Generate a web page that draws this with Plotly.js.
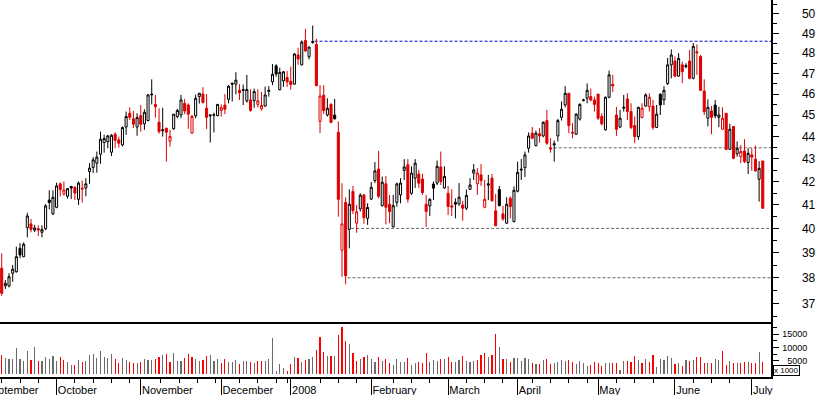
<!DOCTYPE html>
<html><head><meta charset="utf-8">
<script src="https://cdn.plot.ly/plotly-3.0.1.min.js"></script>
<style>
html,body{margin:0;padding:0;overflow:hidden;background:#fff;width:817px;height:395px}
#chart{position:absolute;left:-30px;top:0;width:847px;height:395px}
</style>
</head><body><div id="chart"></div>
<script>
// ---- data (daily OHLC, Sep 10 2007 .. Jul 4 2008) ----
const open = [38.38,37.68,37.68,38.18,38.24,39.18,38.84,40.03,40.19,39.93,
39.99,39.84,39.99,41.20,40.61,40.89,41.90,41.46,41.36,41.78,
41.74,41.23,41.71,41.72,42.44,42.62,42.81,43.21,43.74,43.78,
43.30,44.12,43.86,43.63,44.45,45.09,44.83,44.45,44.98,44.60,
44.75,46.00,45.51,44.67,44.28,44.40,43.80,44.37,44.94,45.01,
45.56,45.48,44.17,44.97,45.88,46.00,45.33,44.97,45.00,44.98,
45.22,45.48,45.75,46.52,46.48,46.18,46.18,45.68,45.72,45.69,
45.51,45.30,45.43,46.13,46.59,47.37,46.21,46.64,46.80,46.62,
46.48,47.91,47.42,48.64,47.82,48.53,48.44,44.71,45.95,45.01,
45.51,45.01,44.21,39.10,41.10,39.96,41.57,40.22,40.82,41.42,
40.42,41.24,42.04,42.55,40.96,41.90,41.02,40.07,41.10,41.42,
42.49,42.74,41.49,42.15,42.33,42.11,41.02,40.95,41.89,41.93,
42.64,41.72,41.49,40.95,41.10,41.03,40.99,40.85,41.66,42.37,
41.90,42.29,40.89,41.84,42.15,40.74,41.65,40.61,40.22,41.27,
40.29,41.58,42.55,42.61,43.48,44.17,43.60,44.14,44.04,44.75,
43.49,43.63,44.04,44.90,45.48,46.04,44.21,44.12,44.82,45.69,
45.80,45.88,45.72,46.00,44.94,44.32,45.85,46.47,45.01,44.45,
45.33,45.77,45.17,44.52,44.01,44.89,45.43,45.40,45.43,44.43,
45.99,45.72,46.51,47.42,47.61,46.87,47.42,47.33,47.61,46.76,
48.07,47.84,46.15,44.86,45.20,45.48,44.90,44.35,45.09,43.43,
44.48,43.23,43.10,43.36,42.84,43.18,42.99,42.10,42.91];
const high = [38.98,37.91,38.18,38.51,39.25,39.39,39.42,40.66,40.40,40.15,
40.13,40.13,41.03,41.62,41.62,41.95,41.95,42.00,41.72,41.81,
41.81,42.00,42.04,42.15,42.81,43.08,43.33,44.24,44.09,44.09,
44.12,44.21,44.01,44.48,45.17,45.37,45.20,45.09,45.48,45.28,
46.00,46.71,45.96,45.33,45.35,44.40,44.32,45.05,45.30,45.96,
45.77,45.56,45.01,45.98,46.04,46.33,46.00,45.01,45.12,45.51,
45.51,46.00,46.43,46.55,47.06,46.47,46.46,46.93,46.23,46.26,
46.23,46.10,46.36,46.38,47.46,47.45,47.28,47.12,47.12,47.34,
48.00,48.27,48.64,49.23,48.31,49.40,48.72,46.43,46.43,45.80,
45.57,45.77,44.71,41.93,41.32,41.66,41.81,40.99,41.49,41.46,
41.06,41.98,42.86,43.36,42.22,42.25,41.42,41.42,41.95,42.15,
42.99,42.99,42.67,42.99,42.51,42.34,41.42,41.27,42.00,42.93,
43.33,42.67,41.81,41.66,41.27,41.93,41.17,41.65,42.15,42.77,
42.59,42.77,42.07,42.29,42.33,41.46,41.81,40.95,41.32,41.36,
41.79,42.88,42.99,43.33,44.20,44.45,44.29,44.40,44.71,45.25,
43.94,43.83,44.83,45.65,46.38,46.04,44.63,45.09,45.56,45.78,
46.51,46.26,45.88,46.00,45.09,45.88,47.14,46.93,45.40,45.25,
45.96,46.04,45.56,44.94,45.40,45.56,46.04,46.04,45.72,45.48,
46.04,46.38,47.76,48.19,47.84,48.00,47.58,47.50,48.15,48.51,
48.44,47.91,46.71,45.75,45.43,45.72,45.40,45.37,45.09,44.60,
44.48,43.79,43.63,43.89,43.48,43.48,43.60,42.90,42.91];
const low = [37.29,37.56,37.62,37.84,38.20,38.78,38.82,39.63,39.84,39.85,
39.69,39.63,39.93,40.80,40.56,40.85,41.36,41.39,41.26,41.24,
41.20,40.99,41.09,41.36,41.90,42.37,42.39,42.78,43.28,43.48,
43.13,43.48,43.51,43.56,44.09,44.78,44.40,44.05,44.24,44.32,
44.71,45.51,44.89,44.14,44.01,42.88,43.56,44.32,44.86,44.86,
45.05,44.37,44.15,44.86,45.55,45.55,44.36,43.74,44.20,44.95,
44.94,45.05,45.56,45.65,45.99,45.72,45.48,45.59,45.17,45.35,
45.37,45.22,45.40,45.88,46.43,46.84,46.18,46.35,46.35,46.21,
46.45,47.42,47.39,48.06,47.69,48.48,46.40,44.17,45.06,44.94,
44.63,44.80,40.49,38.04,37.74,39.18,40.60,39.82,40.71,40.19,
40.15,41.20,41.93,41.27,40.92,40.17,40.22,40.04,40.92,41.06,
42.07,41.09,41.42,41.72,41.72,41.42,40.07,40.52,41.20,41.85,
41.85,41.68,40.56,40.52,40.42,40.95,40.32,40.77,41.65,42.07,
41.42,41.81,40.85,41.20,41.13,40.11,40.92,40.32,40.19,40.42,
40.25,41.53,42.07,42.20,43.28,43.89,43.56,43.74,43.98,43.63,
43.28,42.88,43.79,44.75,45.37,44.17,43.94,44.09,44.75,45.65,
45.56,45.65,45.17,44.78,44.52,44.29,45.80,46.10,44.04,44.40,
45.17,44.78,44.35,43.71,43.86,44.86,45.40,45.17,44.32,44.40,
45.01,45.48,46.43,46.76,46.81,46.84,46.53,47.25,46.71,46.71,
46.93,46.15,45.01,44.48,44.12,44.86,44.45,44.32,43.40,43.40,
42.99,43.10,42.81,42.81,42.33,42.47,42.42,41.13,40.82];
const close = [37.39,37.78,38.04,38.34,38.84,38.91,39.35,40.52,39.96,40.02,
39.93,39.95,40.95,41.09,41.32,41.81,41.65,41.63,41.69,41.72,
41.50,41.93,41.68,41.90,42.59,42.96,43.08,43.89,43.92,44.04,
44.07,43.84,43.71,44.43,44.94,44.90,44.58,44.89,44.58,45.14,
45.96,45.97,45.40,44.24,44.32,44.21,44.01,45.05,45.22,45.72,
45.20,45.05,44.94,45.80,46.04,45.60,44.90,45.01,45.02,45.51,
45.35,45.28,46.38,46.48,46.67,46.06,46.21,46.22,45.22,46.12,
45.68,45.46,45.96,46.18,46.96,46.97,47.05,47.08,46.59,46.46,
47.96,47.71,48.56,48.11,48.31,48.58,46.40,45.91,45.22,45.33,
44.66,44.83,41.23,40.19,38.08,41.02,40.75,40.70,41.41,40.45,
40.88,41.75,42.47,41.36,41.97,40.89,40.71,40.96,41.90,41.93,
42.64,41.24,42.37,42.81,41.93,41.52,40.71,41.23,41.71,42.67,
42.00,42.22,40.92,40.90,41.02,41.32,40.85,41.40,41.85,42.51,
42.37,42.04,41.23,41.90,41.17,40.11,40.96,40.40,41.02,40.92,
41.62,42.40,42.51,43.18,44.04,43.94,44.17,44.04,44.67,43.71,
43.45,43.68,44.75,45.28,46.04,44.52,44.17,45.05,45.51,45.72,
46.18,45.72,45.51,44.86,44.60,45.85,46.93,46.39,44.35,44.86,
45.37,45.17,44.43,44.01,45.37,45.33,45.96,45.85,44.43,45.05,
45.48,46.18,47.42,47.91,46.87,47.74,47.08,47.38,46.76,48.34,
48.02,46.18,45.17,45.37,44.90,44.97,45.01,44.86,43.43,44.35,
43.03,43.48,43.33,42.88,43.25,43.08,42.47,42.58,40.85];
// volume in thousands
const volume = [7125,5875,5500,5500,9750,5625,4875,8625,5250,10250,
4875,4875,6500,5625,6750,4875,6375,5250,4625,3375,
3375,5250,4625,4875,7125,7500,6125,8625,6375,6125,
7500,5625,4250,5875,5250,4375,4250,4125,4625,5625,
5250,5250,5625,6500,7125,7375,4625,7875,4875,4875,
6125,7500,6500,5625,4875,5250,6875,7125,4875,5625,
4250,5625,4625,4625,5250,3750,4875,4875,4625,4250,
4875,4875,4875,5625,13625,1125,3750,2125,1125,3750,
6500,6000,4625,5250,5500,6375,9000,14000,8375,6750,
6750,6750,14625,17750,12375,11250,7750,5000,5500,6500,
7125,5500,4625,6500,5000,5625,4250,3375,5625,4375,
4625,5875,3375,4250,4500,4250,7750,4625,5250,5000,
5625,5625,6250,4375,4625,5250,6750,4875,4625,5000,
5250,7125,7750,6500,7125,15000,10250,5625,5625,4500,
6125,6125,4875,6125,5750,4250,3750,3750,5250,5625,
3750,4000,4625,5250,5000,5250,4625,3625,5000,4000,
3125,3375,4375,4250,3000,4000,4000,4000,4000,1500,
5000,4875,4625,6875,5250,4250,5500,4625,7125,2750,
5625,5250,6875,5875,3625,4250,3125,5250,5000,5250,
6500,6250,4250,4000,4000,5625,5250,8625,3375,4875,
4000,4000,4250,4500,4625,4250,4250,8375,4625];

// axis labels / ticks (x positions are trading-day indices)
const monthLabels = ['September','October','November','December','2008','February','March','April','May','June','July'];
const monthStart = [-5, 15, 38, 60, 79, 101, 122, 141, 163, 184, 205];
const weekTicks = [-10,0,5,10,20,25,30,35,43.5,48.5,53.5,58.5,65,70,75,78,87,92,97,107,112,117,127,132,137,145,150,155,160,168,173,178,189,194,199];
const priceTicks = [37,38,39,40,41,42,43,44,45,46,47,48,49,50];
const priceMinor = [36.5,37.5,38.5,39.5,40.5,41.5,42.5,43.5,44.5,45.5,46.5,47.5,48.5,49.5,50.5];
const volTicks = [5000,10000,15000];
const volMinor = [2500,7500,12500,17500];
const volUnit = 'x 1000';
// horizontal support / resistance levels
const levelValue = [48.6, 43.5, 40, 38];
const levelFrom = [85.5, 149.5, 95.5, 94.5];
const levelColor = ['#0000cc', '#666666', '#666666', '#666666'];

// ---- build ----
const idx = close.map((_, i) => i);
const upDay = close.map((c, i) => i === 0 ? c >= open[i] : c >= close[i - 1]);
const pick = (arr, flag) => arr.filter((_, i) => upDay[i] === flag);
const RED = '#dd0000';

function candle(flag, col) {
  return {
    type: 'candlestick', xaxis: 'x', yaxis: 'y',
    x: pick(idx, flag), open: pick(open, flag), high: pick(high, flag),
    low: pick(low, flag), close: pick(close, flag),
    increasing: {line: {color: col, width: 1}, fillcolor: '#ffffff'},
    decreasing: {line: {color: col, width: 1}, fillcolor: col},
    whiskerwidth: 0, hoverinfo: 'skip', showlegend: false
  };
}

const volTrace = {
  type: 'bar', xaxis: 'x2', yaxis: 'y2', x: idx, y: volume, width: 0.32,
  marker: {color: upDay.map(u => u ? '#6b6b6b' : '#ff0000'), line: {width: 0}},
  hoverinfo: 'skip', showlegend: false
};

const xr = [-8.664, 210.25];
const split = 55 / 377;
const font = {family: 'Arial, Liberation Sans, sans-serif', color: '#000'};

const shapes = levelValue.map((v, i) => ({
  type: 'line', xref: 'x', yref: 'y', x0: levelFrom[i], x1: 215, y0: v, y1: v,
  line: {color: levelColor[i], width: 1, dash: '3px,2px'}, layer: 'below'
}));

const layout = {
  width: 847, height: 395,
  margin: {l: 0, r: 46, t: 0, b: 18},
  paper_bgcolor: '#fff', plot_bgcolor: '#fff',
  showlegend: false, boxgap: 0.25, boxgroupgap: 0.25, bargap: 0,
  font: Object.assign({size: 11}, font),
  xaxis: {domain: [0, 1], range: xr, anchor: 'y', showticklabels: false, ticks: '',
    showline: true, linecolor: '#000', linewidth: 1.5, showgrid: false, zeroline: false,
    rangeslider: {visible: false}},
  yaxis: {domain: [split, 1], type: 'log', range: [Math.log10(36.29), Math.log10(50.73)],
    side: 'right', anchor: 'x', showline: true, linecolor: '#000', linewidth: 1.5,
    ticks: 'outside', ticklen: 6, tickwidth: 1, tickcolor: '#000',
    tickmode: 'array', tickvals: priceTicks, ticktext: priceTicks.map(String),
    tickfont: Object.assign({size: 12}, font), ticklabelstandoff: 21,
    showgrid: false, zeroline: false,
    minor: {tickmode: 'array', tickvals: priceMinor, ticks: 'outside', ticklen: 4, tickcolor: '#000', showgrid: false}},
  xaxis2: {domain: [0, 1], range: xr, anchor: 'y2', showline: true, linecolor: '#000', linewidth: 1.5,
    ticks: 'outside', ticklen: 17, tickwidth: 1, tickcolor: '#000',
    tickmode: 'array', tickvals: monthStart, ticktext: monthLabels,
    ticklabelposition: 'outside right', ticklabelstandoff: 2,
    tickfont: Object.assign({size: 11}, font), showgrid: false, zeroline: false,
    minor: {tickmode: 'array', tickvals: weekTicks, ticks: 'outside', ticklen: 4, tickcolor: '#000', showgrid: false}},
  yaxis2: {domain: [0, split], range: [-1128, 19549], side: 'right', anchor: 'x2',
    showline: true, linecolor: '#000', linewidth: 1.5,
    ticks: 'outside', ticklen: 6, tickwidth: 1, tickcolor: '#000',
    tickmode: 'array', tickvals: volTicks, ticktext: volTicks.map(v => String(v).padStart(5, '\u2007')),
    tickfont: Object.assign({size: 9}, font), ticklabelstandoff: 2,
    showgrid: false, zeroline: false,
    minor: {tickmode: 'array', tickvals: volMinor, ticks: 'outside', ticklen: 4, tickcolor: '#000', showgrid: false}},
  shapes: shapes,
  annotations: [{xref: 'paper', yref: 'paper', x: 1, y: 0, xanchor: 'left', yanchor: 'bottom',
    xshift: 2, yshift: 1, text: volUnit, showarrow: false,
    font: Object.assign({size: 8}, font), bordercolor: '#000', borderwidth: 1, borderpad: 0, bgcolor: '#fff'}]
};

Plotly.newPlot('chart', [candle(true, '#000000'), candle(false, RED), volTrace], layout,
  {staticPlot: true, displayModeBar: false});
</script></body></html>
